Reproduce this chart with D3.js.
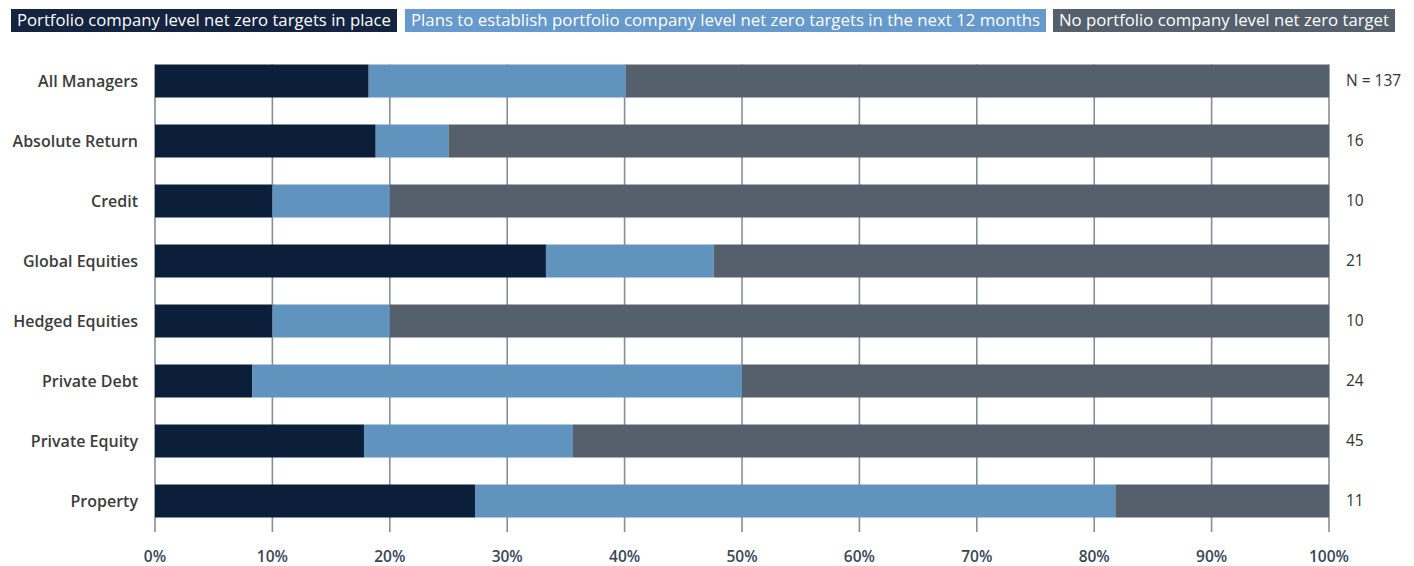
<!DOCTYPE html>
<html>
<head>
<meta charset="utf-8">
<script src="https://cdn.jsdelivr.net/npm/d3@7"></script>
<style>
  html, body { margin: 0; padding: 0; background: #fff; }
  svg { display: block; }
</style>
</head>
<body>
<svg id="chart" width="1414" height="566"></svg>
<script>
// Manager groups, top to bottom
const categories = ["All Managers", "Absolute Return", "Credit", "Global Equities",
  "Hedged Equities", "Private Debt", "Private Equity", "Property"];
// Respondent counts shown at the right of each bar
const counts = ["N = 137", "16", "10", "21", "10", "24", "45", "11"];
// Share of managers in each group (%)
const targetsInPlace = [18.2, 18.8, 10.0, 33.3, 10.0, 8.3, 17.8, 27.3];
const plansNext12m   = [21.9, 6.2, 10.0, 14.3, 10.0, 41.7, 17.8, 54.5];
const noTarget       = [59.9, 75.0, 80.0, 52.4, 80.0, 50.0, 64.4, 18.2];
const seriesNames = [
  "Portfolio company level net zero targets in place",
  "Plans to establish portfolio company level net zero targets in the next 12 months",
  "No portfolio company level net zero target"
];
const tickValues = [0, 10, 20, 30, 40, 50, 60, 70, 80, 90, 100];

const colors = ["#0b1f3b", "#6094be", "#55606c"];
const legendColors = ["#14233f", "#6699cc", "#55606c"];
const font = "'Open Sans', 'DejaVu Sans', sans-serif";

const svg = d3.select("#chart");

const x = d3.scaleLinear().domain([0, 100]).range([155, 1329]);
const y = d3.scaleBand().domain(categories).range([51, 531])
  .paddingInner(0.45).paddingOuter(0.225);

// Stack the three series per category
const rows = categories.map((c, i) => ({
  cat: c, s0: targetsInPlace[i], s1: plansNext12m[i], s2: noTarget[i]
}));
const stack = d3.stack().keys(["s0", "s1", "s2"]);
const stacked = stack(rows);

// Vertical gridlines (drawn first, bars cover them)
svg.append("g")
  .selectAll("line")
  .data(tickValues)
  .join("line")
  .attr("x1", d => x(d)).attr("x2", d => x(d))
  .attr("y1", y(categories[0])).attr("y2", 532)
  .attr("stroke", "#858f9b")
  .attr("stroke-width", 1.6);

// Bars
svg.append("g")
  .selectAll("g")
  .data(stacked)
  .join("g")
  .attr("fill", (d, i) => colors[i])
  .selectAll("rect")
  .data(d => d)
  .join("rect")
  .attr("x", d => x(d[0]))
  .attr("width", d => x(d[1]) - x(d[0]))
  .attr("y", d => y(d.data.cat))
  .attr("height", y.bandwidth());

// X axis labels
svg.append("g")
  .selectAll("text")
  .data(tickValues)
  .join("text")
  .attr("x", d => x(d))
  .attr("y", 557)
  .attr("dy", "0.35em")
  .attr("text-anchor", "middle")
  .attr("font-family", font)
  .attr("font-size", 15.5)
  .attr("font-weight", 600)
  .attr("fill", "#3a4658")
  .text(d => d + "%");

// Category labels
svg.append("g")
  .selectAll("text")
  .data(categories)
  .join("text")
  .attr("x", 138)
  .attr("y", d => y(d) + y.bandwidth() / 2)
  .attr("dy", "0.35em")
  .attr("text-anchor", "end")
  .attr("font-family", font)
  .attr("font-size", 16)
  .attr("font-weight", 600)
  .attr("fill", "#3c3c3c")
  .text(d => d);

// Counts
svg.append("g")
  .selectAll("text")
  .data(categories)
  .join("text")
  .attr("x", 1346)
  .attr("y", d => y(d) + y.bandwidth() / 2)
  .attr("dy", "0.35em")
  .attr("font-family", font)
  .attr("font-size", 15.5)
  .attr("fill", "#333")
  .text((d, i) => counts[i]);

// Legend: coloured boxes with white text
const legendX = [11, 405, 1053];
const legendW = [386, 641, 342];
const lg = svg.append("g");
seriesNames.forEach((name, i) => {
  lg.append("rect")
    .attr("x", legendX[i]).attr("y", 9)
    .attr("width", legendW[i]).attr("height", 23)
    .attr("fill", legendColors[i]);
  lg.append("text")
    .attr("x", legendX[i] + legendW[i] / 2)
    .attr("y", 21)
    .attr("dy", "0.35em")
    .attr("text-anchor", "middle")
    .attr("font-family", font)
    .attr("font-size", 15.5)
    .attr("fill", "#fff")
    .attr("textLength", legendW[i] - 12)
    .attr("lengthAdjust", "spacingAndGlyphs")
    .text(name);
});
</script>
</body>
</html>
